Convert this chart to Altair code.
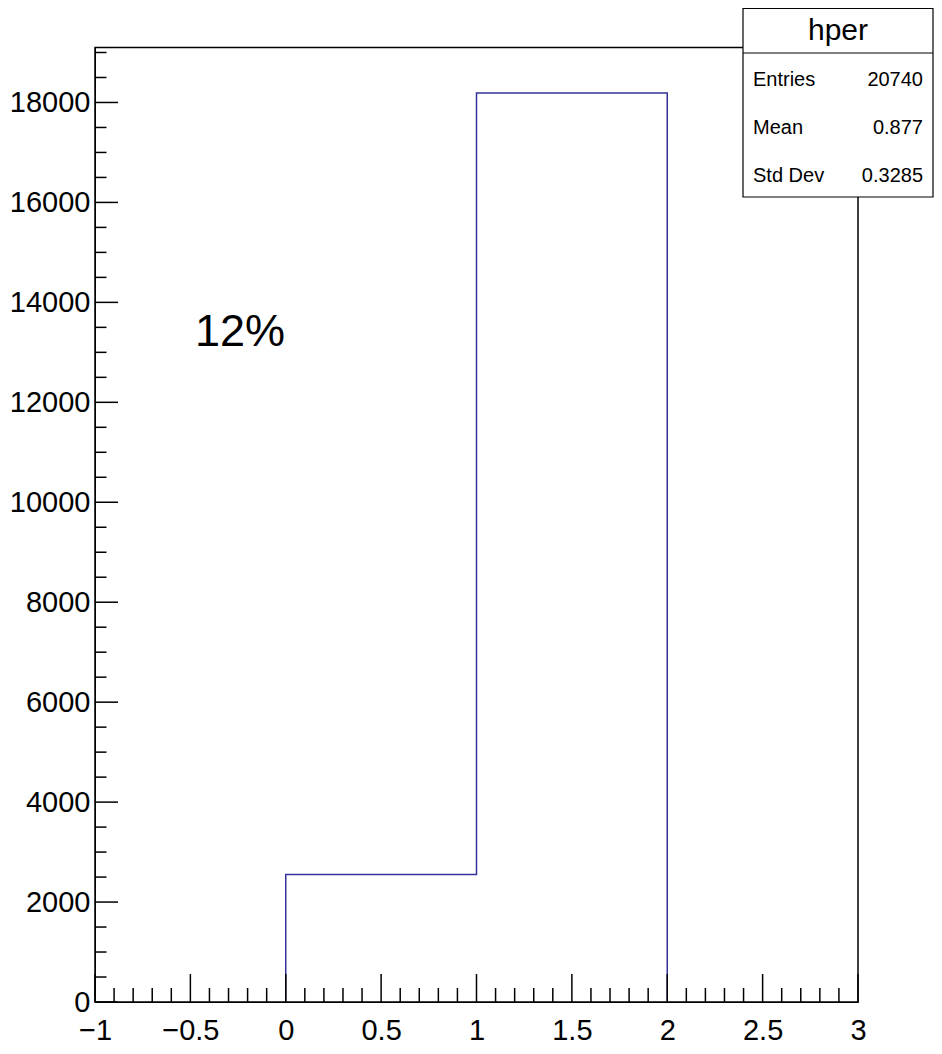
import altair as alt
import numpy as np
import pandas as pd

# ---- data ----
bin_edges = [0, 1, 2]
bin_counts = [2550, 18190]
x_major_ticks = [-1, -0.5, 0, 0.5, 1, 1.5, 2, 2.5, 3]
y_major_ticks = [0, 2000, 4000, 6000, 8000, 10000, 12000, 14000, 16000, 18000]
stats_title = "hper"
stats_labels = ["Entries", "Mean", "Std Dev"]
stats_values = ["20740", "0.877", "0.3285"]
annotation = "12%"

X_DOMAIN = [-1, 3]
Y_DOMAIN = [0, 19100]
W, H = 763, 954.5
FONT = "Liberation Sans"
LINE = "#333399"

x_minor_ticks = [round(v, 2) for v in np.arange(-1, 3.0001, 0.1) if round(v * 2, 6) % 1 != 0]
y_minor_ticks = [v for v in range(0, 19001, 500) if v % 2000 != 0]

xs = alt.Scale(domain=X_DOMAIN, nice=False, zero=False)
ys = alt.Scale(domain=Y_DOMAIN, nice=False, zero=True)

# step outline points
pts = [(bin_edges[0], 0)] + [(bin_edges[i], c) for i, c in enumerate(bin_counts)] + [(bin_edges[-1], 0)]
hist_df = pd.DataFrame({"x": [p[0] for p in pts], "y": [p[1] for p in pts], "o": list(range(len(pts)))})

base_axes = alt.Chart(pd.DataFrame({"x": [X_DOMAIN[0]], "y": [0]})).mark_point(opacity=0).encode(
    x=alt.X("x:Q", scale=xs, title=None,
            axis=alt.Axis(values=x_major_ticks, ticks=False, grid=False, labelFontSize=29,
                          labelFont=FONT, labelColor="black", domainColor="black",
                          labelPadding=14, labelFlush=False, format="~g", labelOverlap=False)),
    y=alt.Y("y:Q", scale=ys, title=None,
            axis=alt.Axis(values=y_major_ticks, ticks=False, grid=False, labelFontSize=29,
                          labelFont=FONT, labelColor="black", domainColor="black",
                          labelPadding=5, format="d", labelFlush=False, labelOverlap=False)),
)

hist = alt.Chart(hist_df).mark_line(interpolate="step-after", color=LINE, strokeWidth=1.5).encode(
    x=alt.X("x:Q", scale=xs), y=alt.Y("y:Q", scale=ys), order="o:Q")

def xtick(vals, length):
    return alt.Chart(pd.DataFrame({"v": vals})).mark_rule(color="black", strokeWidth=1.5).encode(
        x=alt.X("v:Q", scale=xs), y=alt.value(H), y2=alt.value(H - length))

def ytick(vals, length):
    return alt.Chart(pd.DataFrame({"v": vals})).mark_rule(color="black", strokeWidth=1.5).encode(
        y=alt.Y("v:Q", scale=ys), x=alt.value(0), x2=alt.value(length))

one = pd.DataFrame({"a": [0]})
BX0, BX1, BY0, BY1 = 648, 838, -39, 149.5

box = alt.Chart(one).mark_rect(fill="white", stroke="black", strokeWidth=1.2).encode(
    x=alt.value(BX0), x2=alt.value(BX1), y=alt.value(BY0), y2=alt.value(BY1))
box_line = alt.Chart(one).mark_rule(color="black", strokeWidth=1.2).encode(
    x=alt.value(BX0), x2=alt.value(BX1), y=alt.value(5.5))
title_txt = alt.Chart(one).mark_text(text=stats_title, font=FONT, fontSize=30, align="center",
                                     baseline="alphabetic", color="black").encode(
    x=alt.value((BX0 + BX1) / 2), y=alt.value(-8))

stat_layers = []
for i, (lab, val) in enumerate(zip(stats_labels, stats_values)):
    yb = 38.5 + 48 * i
    stat_layers.append(alt.Chart(one).mark_text(text=lab, font=FONT, fontSize=20, align="left",
                                                baseline="alphabetic", color="black").encode(
        x=alt.value(BX0 + 10), y=alt.value(yb)))
    stat_layers.append(alt.Chart(one).mark_text(text=val, font=FONT, fontSize=20, align="right",
                                                baseline="alphabetic", color="black").encode(
        x=alt.value(BX1 - 10), y=alt.value(yb)))

annot = alt.Chart(one).mark_text(text=annotation, font=FONT, fontSize=45, align="left",
                                 baseline="alphabetic", color="black").encode(
    x=alt.value(195 - 95), y=alt.value(346 - 47.5))

chart = alt.layer(
    base_axes, hist,
    xtick(x_major_ticks, 28), xtick(x_minor_ticks, 14),
    ytick(y_major_ticks, 23), ytick(y_minor_ticks, 11.5),
    annot, box, box_line, title_txt, *stat_layers
).properties(
    width=W, height=H,
    autosize=alt.AutoSizeParams(type="none"),
    padding={"left": 87, "top": 39.5, "right": 76, "bottom": 42},
    background="white",
).configure_view(stroke="black", strokeWidth=1.5)

chart.save("out.html", embed_options={"renderer": "svg", "actions": False})
